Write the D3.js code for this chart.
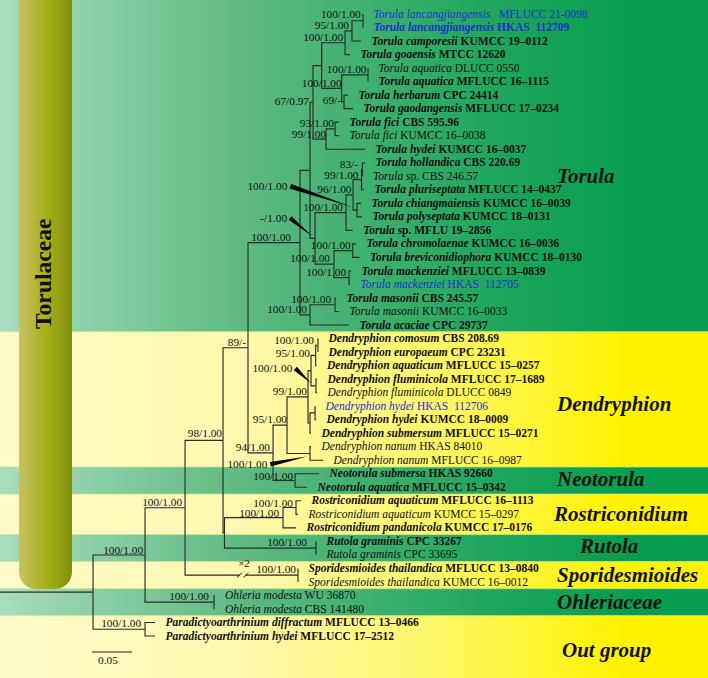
<!DOCTYPE html>
<html>
<head>
<meta charset="utf-8">
<script src="https://cdn.jsdelivr.net/npm/d3@7"></script>
<style>
  html, body { margin: 0; padding: 0; background: #fff; }
  svg { display: block; }
  text { font-family: "Liberation Serif", serif; fill: #111; white-space: pre; }
</style>
</head>
<body>
<div id="chart"></div>
<script>
// tips, top to bottom
const tipNames = ["Torula lancangjiangensis","Torula lancangjiangensis","Torula camporesii","Torula goaensis","Torula aquatica","Torula aquatica","Torula herbarum","Torula gaodangensis","Torula fici","Torula fici","Torula hydei","Torula hollandica","Torula","Torula pluriseptata","Torula chiangmaiensis","Torula polyseptata","Torula","Torula chromolaenae","Torula breviconidiophora","Torula mackenziei","Torula mackenziei","Torula masonii","Torula masonii","Torula acaciae","Dendryphion comosum","Dendryphion europaeum","Dendryphion aquaticum","Dendryphion fluminicola","Dendryphion fluminicola","Dendryphion hydei","Dendryphion hydei","Dendryphion submersum","Dendryphion nanum","Dendryphion nanum","Neotorula submersa","Neotorula aquatica","Rostriconidium aquaticum","Rostriconidium aquaticum","Rostriconidium pandanicola","Rutola graminis","Rutola graminis","Sporidesmioides thailandica","Sporidesmioides thailandica","Ohleria modesta","Ohleria modesta","Paradictyoarthrinium diffractum","Paradictyoarthrinium hydei"];
const tipStrains = ["  MFLUCC 21-0098","HKAS  112709","KUMCC 19–0112","MTCC 12620","DLUCC 0550","MFLUCC 16–1115","CPC 24414","MFLUCC 17–0234","CBS 595.96","KUMCC 16–0038","KUMCC 16–0037","CBS 220.69","sp. CBS 246.57","MFLUCC 14–0437","KUMCC 16–0039","KUMCC 18–0131","sp. MFLU 19–2856","KUMCC 16–0036","KUMCC 18–0130","MFLUCC 13–0839","HKAS  112705","CBS 245.57","KUMCC 16–0033","CPC 29737","CBS 208.69","CPC 23231","MFLUCC 15–0257","MFLUCC 17–1689","DLUCC 0849","HKAS  112706","KUMCC 18–0009","MFLUCC 15–0271","HKAS 84010","MFLUCC 16–0987","HKAS 92660","MFLUCC 15–0342","MFLUCC 16–1113","KUMCC 15–0297","KUMCC 17–0176","CPC 33267","CPC 33695","MFLUCC 13–0840","KUMCC 16–0012","WU 36870","CBS 141480","MFLUCC 13–0466","MFLUCC 17–2512"];
const plainTips = [0,4,9,12,20,22,28,29,32,33,37,40,42,43,44];
const blueTips = [0,1,20,29];
const tipParents = ["T1","T1","T2","T3","T6","T6","T7","T7","T10","T10","T9","T17b","T17b","T17","T18","T18","T14","T22","T22","T23","T23","T21","T21","T20","N1","N1","N2","N4","N4","N6","N6","L","J","J","Ne","Ne","RP","RP","Ro","Ru","Ru","Sp","Sp","Oh","Oh","Og","Og"];
// substitutions per site from the root
const tipDepths = [.4538,.4538,.4513,.4375,.46,.46,.435,.4413,.4238,.4238,.4563,.4563,.4531,.455,.4513,.4525,.4409,.445,.4494,.4388,.4375,.42,.4238,.4363,.3975,.3975,.3956,.3963,.3963,.3938,.395,.3888,.3888,.4038,.3988,.3838,.3763,.3725,.37,.395,.395,.3725,.3725,.2681,.2681,.1938,.1938];

// internal nodes
const nodeIds = ["root","A","B","Og","C","Oh","D","Sp","E","F","Ro","RP","Ru","T12","G","T11","T20","T21","T8","T13","T4","T3","T2","T1","T5","T6","T7","T9","T10","T14","T16","T17","T17b","T18","T15","T22","T23","H","Ne","I","J","N5","N2","N1","N4","L","N6"];
const nodeParents = ["","root","A","A","B","B","C","C","D","D","F","Ro","F","E","E","T12","T12","T20","T11","T11","T8","T4","T3","T2","T4","T5","T5","T8","T9","T13","T14","T16","T17","T16","T13","T15","T15","G","G","H","H","I","N5","N2","N5","I","L"];
const nodeDepths = [0,.1163,.1813,.1813,.2313,.2675,.2788,.3725,.31,.2806,.3538,.37,.395,.375,.3413,.3875,.3875,.4188,.3913,.3938,.4021,.4313,.44,.4538,.4271,.46,.43,.4075,.4188,.4325,.4413,.4519,.4531,.4463,.4175,.4409,.4363,.3588,.3688,.385,.3875,.3888,.3946,.3975,.395,.3875,.3938];

// support values, ML/BI
const supportNodes = ["T1","T2","T3","T6","T5","T7","T8","T10","T9","T17b","T17","T16","T14","T18","T13","T12","T22","T15","T23","T21","T20","E","N1","N2","N4","I","H","G","J","Ne","RP","Ro","Ru","Sp","C","D","B","Oh","Og"];
const supportValues = ["100/1.00","95/1.00","100/1.00","100/1.00","100/1.00","69/-","67/0.97","93/1.00","99/1.00","83/-","99/1.00","96/1.00","100/1.00","100/1.00","-/1.00","100/1.00","100/1.00","100/1.00","100/1.00","100/1.00","100/1.00","89/-","100/1.00","95/1.00","100/1.00","99/1.00","95/1.00","94/1.00","100/1.00","100/1.00","100/1.00","100/1.00","100/1.00","100/1.00","100/1.00","98/1.00","100/1.00","100/1.00","100/1.00"];
const wedgeNodes = ["T18","T13","N4","J"];

const cladeNames = ["Torula","Dendryphion","Neotorula","Rostriconidium","Rutola","Sporidesmioides","Ohleriaceae","Out group"];
const cladeFirstTip = [0,24,34,36,39,41,43,45];
const scaleValue = 0.05;

// layout
const width = 708, height = 678;
const x = d3.scaleLinear().domain([0, scaleValue]).range([0, 40]);
const y = d3.scaleLinear().domain([0, tipNames.length - 1]).range([14, 636]);
const labelGap = 10.5;

const labelOffset = {
  T1:[-2.3,-3], T2:[-3,-2], T3:[-2,-2], T6:[-1.5,-2], T5:[0,-1.5], T7:[-3,2], T8:[-4,2.6], T10:[-1,-2], T9:[0,-1],
  T17b:[-4.5,-1.5], T17:[-3,-1], T16:[-1.5,-2], T14:[-3,-2], T18:[-69.7,-20.3], T13:[-28,-16.8], T12:[-9,-2],
  T22:[-2,-1.5], T15:[-4,-2], T23:[-3,-2], T21:[-4,-2], T20:[-3,-2], E:[-2,-2], N1:[-4,-1], N2:[-5.7,1.7],
  N4:[-23.7,-13.8], I:[-1,-2], H:[0,-2], G:[-3,-1.5], J:[-42.7,14.3], Ne:[-2,-1], RP:[-3,-1], Ro:[-4,-1],
  Ru:[-9,-2], Sp:[-2,-2], C:[-3,-2], D:[-1,-3], B:[-2,-1], Oh:[-5,-2], Og:[-4,-2]
};
const wedgeTip = { T18:[-5,-3], T13:[-3,-2.5], N4:[-5,-2.5], J:[-3,3] };
const cladeLabelX = [557,557,557,554,580,557,557,562];
const cladeLabelY = [183,411,486,520.7,553,581.7,609,656.7];

// tree from the two flat lists
const rows = nodeIds.map((id, i) => ({ id, parent: nodeParents[i], depth: nodeDepths[i], tip: -1 }))
  .concat(tipNames.map((n, i) => ({ id: "tip" + i, parent: tipParents[i], depth: tipDepths[i], tip: i })));
const root = d3.stratify().id(d => d.id).parentId(d => d.parent)(rows);

root.eachAfter(d => {
  d.px = x(d.data.depth);
  if (d.data.tip >= 0) d.py = y(d.data.tip);
  else {
    const ys = d.children.map(c => c.py);
    d.py = (d3.min(ys) + d3.max(ys)) / 2;
  }
});
const byId = new Map(root.descendants().map(d => [d.data.id, d]));

const svg = d3.select("#chart").append("svg").attr("width", width).attr("height", height);
const defs = svg.append("defs");

function hGradient(id, stops) {
  const g = defs.append("linearGradient").attr("id", id);
  stops.forEach(s => g.append("stop").attr("offset", s[0]).attr("stop-color", s[1]));
}
hGradient("greenBand", [[0, "#a9dcbf"], [0.34, "#5fba82"], [0.72, "#1ba55a"], [0.9, "#079e4f"], [1, "#079e4f"]]);
hGradient("yellowBand", [[0, "#fffacb"], [0.34, "#fff8ae"], [0.62, "#fff768"], [0.88, "#fff200"], [1, "#fff200"]]);
hGradient("pillFill", [[0, "#c9c163"], [0.55, "#a3ae14"], [1, "#7f8f10"]]);

// background bands, edges halfway between tips
const bandEdges = cladeFirstTip.map((t, i) => i === 0 ? 0 : y(t - 0.5)).concat([height]);
svg.append("g").selectAll("rect").data(cladeNames).join("rect")
  .attr("x", 0)
  .attr("width", width)
  .attr("y", (d, i) => bandEdges[i])
  .attr("height", (d, i) => bandEdges[i + 1] - bandEdges[i])
  .attr("fill", (d, i) => i === 0 || d === "Neotorula" || d === "Rutola" || d === "Ohleriaceae" ? "url(#greenBand)" : "url(#yellowBand)");

// soft seam where green meets yellow
svg.append("g").selectAll("line").data(bandEdges.slice(1, -1)).join("line")
  .attr("x1", 0).attr("x2", width)
  .attr("y1", d => d).attr("y2", d => d)
  .attr("stroke", "#c6e58a").attr("stroke-opacity", 0.7).attr("stroke-width", 1);

// family bar
svg.append("rect")
  .attr("x", 19).attr("y", -22).attr("width", 53).attr("height", 611)
  .attr("rx", 17).attr("ry", 17)
  .attr("fill", "url(#pillFill)");
svg.append("text")
  .attr("transform", "translate(50.7,329) rotate(-90)")
  .attr("font-size", 23.6).attr("font-weight", "bold")
  .text("Torulaceae");

// branches
svg.append("g").selectAll("path").data(root.links()).join("path")
  .attr("fill", "none")
  .attr("stroke", "#2b2b2b")
  .attr("stroke-width", 1.15)
  .attr("d", d => `M${d.source.px},${d.source.py}V${d.target.py}H${d.target.px}`);

// long branch break on Sporidesmioides
const spNode = byId.get("Sp");
const breakX = 243;
svg.append("rect")
  .attr("x", breakX - 3).attr("y", spNode.py - 2).attr("width", 5).attr("height", 4)
  .attr("fill", "#fff9a0");
[-3.5, 3].forEach(off => {
  svg.append("line")
    .attr("x1", breakX + off - 2.5).attr("y1", spNode.py + 2.3)
    .attr("x2", breakX + off + 2.5).attr("y2", spNode.py - 2.3)
    .attr("stroke", "#2b2b2b").attr("stroke-width", 1);
});
svg.append("text").attr("x", breakX + 1).attr("y", spNode.py - 8)
  .attr("text-anchor", "middle").attr("font-size", 11).attr("fill", "#333").text("×2");

// support labels
svg.append("g").selectAll("text").data(supportNodes).join("text")
  .attr("text-anchor", "end")
  .attr("font-size", 11.3)
  .attr("x", d => byId.get(d).px + labelOffset[d][0])
  .attr("y", d => byId.get(d).py + labelOffset[d][1])
  .text((d, i) => supportValues[i]);

// pointers from detached labels to their node
svg.append("g").selectAll("path").data(wedgeNodes).join("path")
  .attr("fill", "#000")
  .attr("d", id => {
    const n = byId.get(id);
    const sx = n.px + labelOffset[id][0] + 3, sy = n.py + labelOffset[id][1] - 3.5;
    const tx = n.px + wedgeTip[id][0], ty = n.py + wedgeTip[id][1];
    const len = Math.hypot(tx - sx, ty - sy), nx = -(ty - sy) / len * 2.3, ny = (tx - sx) / len * 2.3;
    return `M${sx + nx},${sy + ny}L${tx},${ty}L${sx - nx},${sy - ny}Z`;
  });

// tip labels
const tipLabels = svg.append("g").selectAll("text").data(root.leaves()).join("text")
  .attr("x", d => d.px + labelGap)
  .attr("y", d => d.py + 3.6)
  .attr("font-size", 11.5)
  .attr("font-weight", d => plainTips.includes(d.data.tip) ? "normal" : "bold")
  .style("fill", d => blueTips.includes(d.data.tip) ? "#1c2fd0" : "#111");
tipLabels.append("tspan").attr("font-style", "italic").text(d => tipNames[d.data.tip]);
tipLabels.append("tspan").text(d => " " + tipStrains[d.data.tip]);

// clade names
svg.append("g").selectAll("text").data(cladeNames).join("text")
  .attr("x", (d, i) => cladeLabelX[i])
  .attr("y", (d, i) => cladeLabelY[i])
  .attr("font-size", 21)
  .attr("font-weight", "bold")
  .attr("font-style", "italic")
  .text(d => d);

// scale bar
const scaleBar = svg.append("g").attr("transform", "translate(92,652)");
scaleBar.append("line")
  .attr("x1", x(0)).attr("x2", x(scaleValue))
  .attr("stroke", "#222").attr("stroke-width", 1.1);
scaleBar.append("text")
  .attr("x", x(scaleValue) / 2 - 4).attr("y", 12)
  .attr("text-anchor", "middle").attr("font-size", 11.3)
  .text(scaleValue);
</script>
</body>
</html>
